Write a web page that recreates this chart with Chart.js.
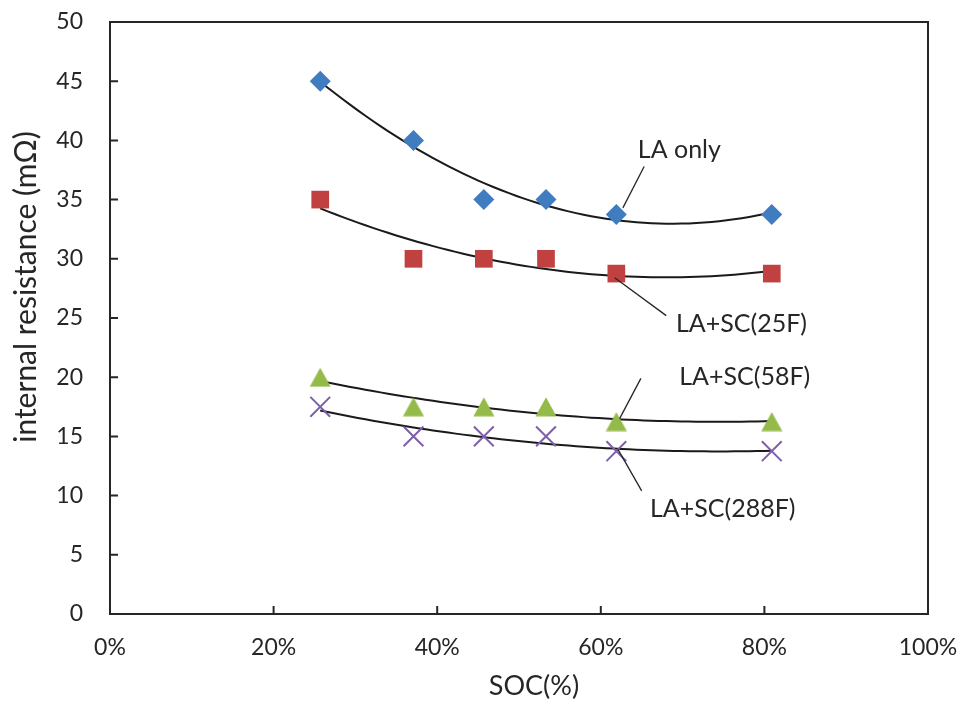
<!DOCTYPE html>
<html>
<head>
<meta charset="utf-8">
<script src="https://cdn.jsdelivr.net/npm/chart.js@4.4.1/dist/chart.umd.min.js"></script>
<style>
  html, body { margin: 0; padding: 0; background: #fff; }
  #wrap { width: 961px; height: 706px; }
</style>
</head>
<body>
<div id="wrap"><canvas id="chart" width="961" height="706"></canvas></div>
<script>
// ================= DATA =================
const soc = [25.7, 37.1, 45.7, 53.3, 61.9, 80.9];   // SOC (%)

const laOnly = [45, 40, 35, 35, 33.75, 33.75];
const sc25F  = [35, 30, 30, 30, 28.75, 28.75];
const sc58F  = [20, 17.5, 17.5, 17.5, 16.25, 16.25];
const sc288F = [17.5, 15, 15, 15, 13.75, 13.75];

const seriesNames = ["LA only", "LA+SC(25F)", "LA+SC(58F)", "LA+SC(288F)"];

const xTicks = [0, 20, 40, 60, 80, 100];
const yTicks = [0, 5, 10, 15, 20, 25, 30, 35, 40, 45, 50];


// ================= STYLE =================
const FONT = "Lato, 'Open Sans', sans-serif";
const INK = "#262626";

// label text + leader line, in data units (x = SOC %, y = mΩ)
const callouts = [
  { text: seriesNames[0], tx: 69.6, ty: 39.2, from: [65.3, 37.8], to: [62.7, 34.3] },
  { text: seriesNames[1], tx: 77.2, ty: 24.5, from: [68.0, 25.2], to: [61.7, 28.4] },
  { text: seriesNames[2], tx: 77.6, ty: 20.0, from: [64.9, 19.9], to: [62.3, 16.5] },
  { text: seriesNames[3], tx: 74.9, ty: 8.9,  from: [65.0, 10.4], to: [62.1, 13.9] }
];


// ================= TRENDLINE (2nd order least squares) =================
function quadFit(xs, ys) {
  let n = xs.length, s = [0, 0, 0, 0, 0], t = [0, 0, 0];
  for (let i = 0; i < n; i++) {
    const x = xs[i], y = ys[i];
    for (let k = 0; k < 5; k++) s[k] += Math.pow(x, k);
    for (let k = 0; k < 3; k++) t[k] += Math.pow(x, k) * y;
  }
  // solve 3x3 normal equations
  const A = [
    [s[0], s[1], s[2], t[0]],
    [s[1], s[2], s[3], t[1]],
    [s[2], s[3], s[4], t[2]]
  ];
  for (let c = 0; c < 3; c++) {
    for (let r = c + 1; r < 3; r++) {
      const f = A[r][c] / A[c][c];
      for (let k = c; k < 4; k++) A[r][k] -= f * A[c][k];
    }
  }
  const b = [0, 0, 0];
  for (let r = 2; r >= 0; r--) {
    let v = A[r][3];
    for (let k = r + 1; k < 3; k++) v -= A[r][k] * b[k];
    b[r] = v / A[r][r];
  }
  return b;
}

function trend(ys) {
  const b = quadFit(soc, ys);
  const x0 = soc[0], x1 = soc[soc.length - 1], pts = [];
  for (let i = 0; i <= 60; i++) {
    const x = x0 + (x1 - x0) * i / 60;
    pts.push({ x, y: b[0] + b[1] * x + b[2] * x * x });
  }
  return pts;
}

const toPoints = ys => soc.map((x, i) => ({ x, y: ys[i] }));

function trendSet(ys) {
  return {
    type: "line",
    data: trend(ys),
    borderColor: "#1a1a1a",
    borderWidth: 2,
    pointRadius: 0,
    tension: 0,
    order: 2
  };
}

// keep tick labels from shrinking the plot area
function noOverhang(s) {
  s.paddingTop = 0;
  s.paddingBottom = 0;
  s.paddingLeft = 0;
  s.paddingRight = 0;
}

// triangle marker centred on its box (Excel style)
function triangleMarker(color) {
  const c = document.createElement("canvas");
  c.width = 22;
  c.height = 20;
  const g = c.getContext("2d");
  g.fillStyle = color;
  g.beginPath();
  g.moveTo(11, 0.5);
  g.lineTo(21.5, 19.5);
  g.lineTo(0.5, 19.5);
  g.closePath();
  g.fill();
  return c;
}


// ================= FRAME / TICKS / TEXT PLUGIN =================
const decor = {
  id: "decor",
  beforeDatasetsDraw(chart) {
    const { ctx, chartArea: a, scales: { x, y } } = chart;
    ctx.save();
    ctx.strokeStyle = INK;
    ctx.lineWidth = 2;
    ctx.strokeRect(a.left, a.top, a.right - a.left, a.bottom - a.top);
    ctx.beginPath();
    xTicks.forEach(v => {
      const px = x.getPixelForValue(v);
      ctx.moveTo(px, a.bottom);
      ctx.lineTo(px, a.bottom - 8);
    });
    yTicks.forEach(v => {
      const py = y.getPixelForValue(v);
      ctx.moveTo(a.left, py);
      ctx.lineTo(a.left + 8, py);
    });
    ctx.stroke();
    ctx.restore();
  },
  afterDraw(chart) {
    const { ctx, scales: { x, y } } = chart;
    ctx.save();
    ctx.fillStyle = INK;
    ctx.strokeStyle = INK;
    ctx.lineWidth = 1.3;
    ctx.textAlign = "center";
    ctx.textBaseline = "middle";

    // callouts
    ctx.font = "25px " + FONT;
    callouts.forEach(c => {
      ctx.beginPath();
      ctx.moveTo(x.getPixelForValue(c.from[0]), y.getPixelForValue(c.from[1]));
      ctx.lineTo(x.getPixelForValue(c.to[0]), y.getPixelForValue(c.to[1]));
      ctx.stroke();
      ctx.fillText(c.text, x.getPixelForValue(c.tx), y.getPixelForValue(c.ty));
    });

    // axis titles
    ctx.font = "27px " + FONT;
    ctx.fillText("SOC(%)", 534, 686);
    ctx.font = "30px " + FONT;
    ctx.translate(26, 287);
    ctx.rotate(-Math.PI / 2);
    ctx.fillText("internal resistance (mΩ)", 0, 0);
    ctx.restore();
  }
};


// ================= CHART =================
new Chart(document.getElementById("chart"), {
  type: "scatter",
  data: {
    datasets: [
      {
        label: seriesNames[0], data: toPoints(laOnly),
        pointStyle: "rectRot", pointRadius: 10.5, pointHoverRadius: 10.5,
        backgroundColor: "#3F7CC0", borderColor: "#3F7CC0", borderWidth: 0, order: 1
      },
      {
        label: seriesNames[1], data: toPoints(sc25F),
        pointStyle: "rect", pointRadius: 12.5, pointHoverRadius: 12.5,
        backgroundColor: "#C0413F", borderColor: "#C0413F", borderWidth: 0, order: 1
      },
      {
        label: seriesNames[2], data: toPoints(sc58F),
        pointStyle: triangleMarker("#94BA4A"), pointRadius: 12, pointHoverRadius: 12,
        backgroundColor: "#94BA4A", borderColor: "#94BA4A", borderWidth: 0, order: 1
      },
      {
        label: seriesNames[3], data: toPoints(sc288F),
        pointStyle: "crossRot", pointRadius: 14, pointHoverRadius: 14,
        backgroundColor: "#7F5FA8", borderColor: "#7F5FA8", borderWidth: 2, order: 1
      },
      trendSet(laOnly),
      trendSet(sc25F),
      trendSet(sc58F),
      trendSet(sc288F)
    ]
  },
  options: {
    responsive: false,
    animation: false,
    layout: { padding: { top: 22, right: 33, left: 0, bottom: 0 } },
    plugins: {
      legend: { display: false },
      tooltip: { enabled: false }
    },
    scales: {
      x: {
        type: "linear", min: 0, max: 100,
        afterBuildTicks: s => { s.ticks = xTicks.map(v => ({ value: v })); },
        afterFit: s => { s.height = 92; noOverhang(s); },
        grid: { display: false, drawTicks: false },
        border: { display: false },
        ticks: {
          padding: 20, color: INK,
          font: { family: FONT, size: 23 },
          callback: v => v + "%"
        }
      },
      y: {
        type: "linear", min: 0, max: 50,
        afterBuildTicks: s => { s.ticks = yTicks.map(v => ({ value: v })); },
        afterFit: s => { s.width = 110; noOverhang(s); },
        grid: { display: false, drawTicks: false },
        border: { display: false },
        ticks: {
          padding: 27, color: INK,
          font: { family: FONT, size: 23 }
        }
      }
    }
  },
  plugins: [decor]
});
</script>
</body>
</html>
